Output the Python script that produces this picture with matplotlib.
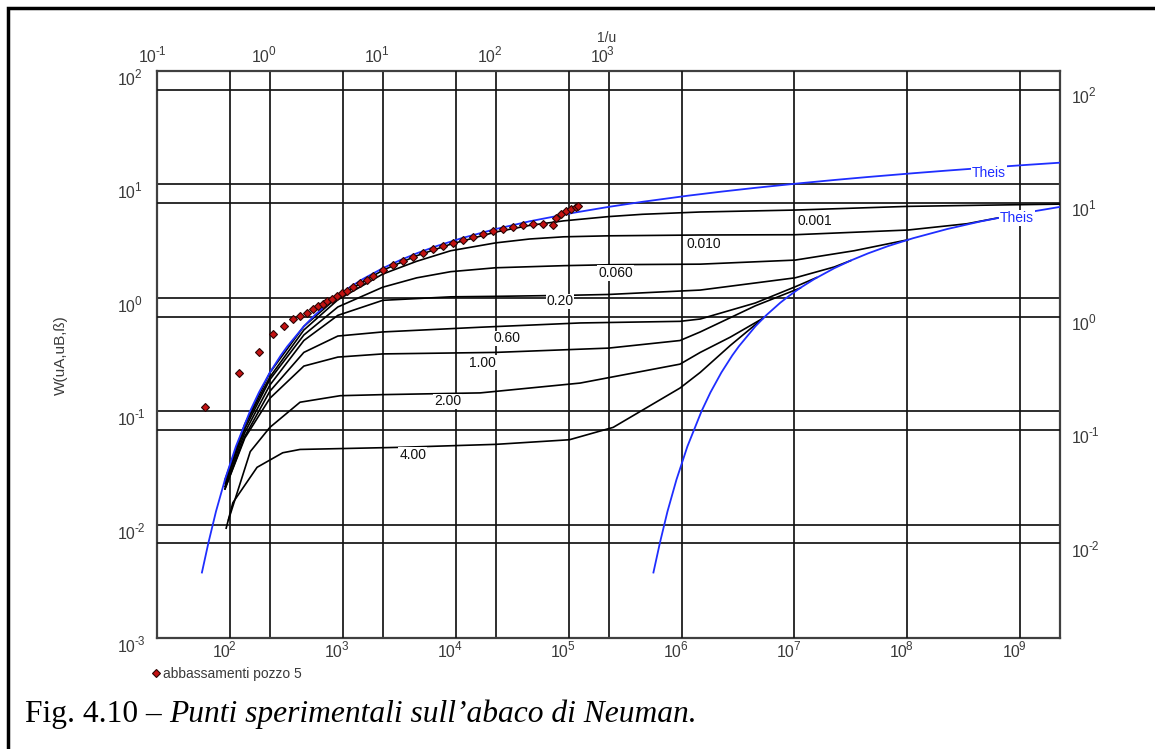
import matplotlib
matplotlib.use("Agg")
import math
import matplotlib.pyplot as plt
from matplotlib.lines import Line2D
from matplotlib.patches import Rectangle
from matplotlib.transforms import offset_copy

plt.rcParams['font.family'] = ['Liberation Sans', 'DejaVu Sans']

# ---------------------------------------------------------------- data
# Theis well function W(u), tabulated against 1/u
theis_inv_u = [0.25, 0.286, 0.333, 0.4, 0.5, 0.667, 0.8, 1, 1.25, 1.43, 2, 2.5,
               3.33, 4, 5, 6.67, 10, 14.3, 20, 30, 50, 100, 200, 500, 1e3, 2e3,
               5e3, 1e4, 2e4, 5e4, 1e5, 2e5, 5e5, 1e6, 2e6, 5e6, 1e7]
theis_w = [0.00378, 0.00697, 0.01305, 0.02491, 0.0489, 0.1000, 0.1464, 0.2194,
           0.3106, 0.3738, 0.5598, 0.7024, 0.9057, 1.0443, 1.2227, 1.4645,
           1.8229, 2.1508, 2.4679, 2.8578, 3.3547, 4.0379, 4.7261, 5.6394,
           6.3315, 7.0242, 7.9402, 8.6332, 9.3263, 10.2426, 10.9357, 11.6289,
           12.5451, 13.2383, 13.9314, 14.8477, 15.5409]

# on this sheet the 1/uB scale is shifted four decades from the 1/uA scale
B_SHIFT = 1e4

# Neuman curves W(uA,uB,beta), abscissa in sheet units of 1/uA
beta_labels = ["0.001", "0.010", "0.060", "0.20", "0.60", "1.00", "2.00", "4.00"]
neuman_x = {
    "0.001": [0.4, 0.6, 1, 2, 4, 10, 20, 40, 100, 200, 400, 1000, 2000, 6500,
              4.5e4, 4.5e5, 2e6, 1e7],
    "0.010": [0.4, 0.6, 1, 2, 4, 10, 20, 40, 100, 200, 400, 1000, 6500, 4.5e4,
              4.5e5, 1.5e6, 2.8e6],
    "0.060": [0.4, 0.6, 1, 2, 4, 10, 20, 40, 100, 400, 1100, 6500, 4.5e4,
              1.5e5, 4.5e5],
    "0.20": [0.4, 0.6, 1, 2, 4, 10, 40, 100, 400, 1000, 6500, 4.5e4, 1e5,
             1.4e5],
    "0.60": [0.4, 0.6, 1, 2, 4, 10, 73, 560, 4300, 6500, 2e4, 4.5e4, 7e4],
    "1.00": [0.4, 0.6, 1, 2, 4, 10, 100, 1000, 4300, 6500, 2e4, 5e4],
    "2.00": [0.43, 0.67, 1, 1.85, 4.2, 10, 73, 560, 4300, 6500, 1.2e4, 2.34e4],
    "4.00": [0.41, 0.47, 0.77, 1.3, 1.85, 14, 100, 450, 1100, 4300, 6500,
             1.2e4, 2.34e4],
}
neuman_w = {
    "0.001": [0.0248, 0.077, 0.219, 0.56, 1.02, 1.75, 2.35, 2.97, 3.8, 4.35,
              4.77, 5.2, 5.45, 5.71, 5.94, 6.4, 6.55, 6.7],
    "0.010": [0.0241, 0.075, 0.2, 0.52, 0.96, 1.62, 2.1, 2.6, 3.05, 3.3, 3.45,
              3.52, 3.58, 3.6, 3.96, 4.5, 5.06],
    "0.060": [0.023, 0.07, 0.19, 0.47, 0.83, 1.24, 1.5, 1.7, 1.84, 1.92,
              1.96, 1.98, 2.15, 2.6, 3.25],
    "0.20": [0.0217, 0.065, 0.17, 0.42, 0.7, 0.95, 1.02, 1.03, 1.05, 1.07,
             1.17, 1.5, 1.87, 2.13],
    "0.60": [0.0206, 0.06, 0.15, 0.33, 0.46, 0.5, 0.55, 0.6, 0.62, 0.65, 0.9,
             1.25, 1.51],
    "1.00": [0.0206, 0.058, 0.13, 0.25, 0.3, 0.32, 0.33, 0.36, 0.42, 0.5,
             0.85, 1.22],
    "2.00": [0.011, 0.044, 0.072, 0.12, 0.137, 0.14, 0.145, 0.177, 0.26, 0.33,
             0.45, 0.66],
    "4.00": [0.0093, 0.0156, 0.032, 0.043, 0.046, 0.048, 0.051, 0.056, 0.072,
             0.16, 0.22, 0.38, 0.66],
}
# curve annotations (sheet 1/uA, W)
beta_label_x = [6.7e4, 6.95e3, 1155, 372, 125, 76.6, 37.5, 18.4]
beta_label_w = [4.75, 3.01, 1.654, 0.928, 0.438, 0.268, 0.122, 0.0415]
theis_label_x = [2.36e6, 4.17e6]
theis_label_w = [12.6, 5.06]

# drawdown record, well 5: time and drawdown
t_obs = [60, 120, 180, 240, 300, 360, 420, 480, 540, 600, 660, 720, 800, 890,
         980, 1090, 1230, 1420, 1640, 1850, 2270, 2780, 3410, 4180, 5130, 6290,
         7710, 9460, 11600, 14200, 17500, 21400, 26200, 32200, 39500, 48400,
         59300, 72800, 77400, 85700, 94900, 105000, 116000, 121000]
s_obs = [0.159, 0.318, 0.486, 0.701, 0.824, 0.951, 1.01, 1.07, 1.16, 1.24,
         1.29, 1.37, 1.43, 1.52, 1.61, 1.68, 1.82, 1.97, 2.10, 2.28, 2.57,
         2.84, 3.08, 3.35, 3.63, 3.94, 4.19, 4.45, 4.73, 5.03, 5.34, 5.68,
         5.91, 6.15, 6.41, 6.54, 6.54, 6.41, 7.39, 8.02, 8.52, 8.87, 9.24, 9.43]

# axis ticks
top_ticks = [0.1, 1, 10, 100, 1000]
left_ticks = [1e-3, 1e-2, 1e-1, 1, 10, 100]
bottom_ticks = [1e2, 1e3, 1e4, 1e5, 1e6, 1e7, 1e8, 1e9]
right_ticks = [1e-2, 1e-1, 1, 10, 100]

# ---------------------------------------------------------------- layout
W_PX, H_PX = 1155, 749
fig = plt.figure(figsize=(W_PX / 100, H_PX / 100), dpi=100)


def fx(px):
    return px / W_PX


def fy(py):
    return 1 - py / H_PX


L, R, T, B = 157, 1060, 71, 638
rect = [fx(L), fy(B), fx(R) - fx(L), fy(T) - fy(B)]

GRID = dict(color='#151515', lw=1.25)
LABEL_C = '#3a3a3a'

# type-curve sheet: 1/uA on top, W on the left
ax = fig.add_axes(rect)
ax.set_xscale('log')
ax.set_yscale('log')
ax.set_xlim(0.1, 1e7)
ax.set_ylim(1e-3, 1e2)
ax.set_xticks(top_ticks)
ax.set_yticks(left_ticks)
ax.minorticks_off()
ax.xaxis.tick_top()
ax.tick_params(length=0, labeltop=False, labelbottom=False,
               labelleft=False, labelright=False)
ax.grid(True, **GRID)
for sp in ax.spines.values():
    sp.set_color('#404040')
    sp.set_linewidth(1.6)
    sp.set_zorder(10)

# field-data sheet: time on the bottom, drawdown on the right
axd = fig.add_axes(rect)
axd.set_xscale('log')
axd.set_yscale('log')
axd.set_xlim(10 ** 1.353, 10 ** 9.353)
axd.set_ylim(10 ** -2.835, 10 ** 2.165)
axd.set_xticks(bottom_ticks)
axd.set_yticks(right_ticks)
axd.minorticks_off()
axd.yaxis.tick_right()
axd.tick_params(length=0, labeltop=False, labelbottom=False,
                labelleft=False, labelright=False)
axd.grid(True, zorder=0, **GRID)
axd.set_axisbelow(True)
axd.patch.set_visible(False)
for sp in axd.spines.values():
    sp.set_visible(False)

# ---------------------------------------------------------------- tick labels
BASE_FS, SUP_FS, SUP_RISE, SUP_GAP = 11.5, 8.5, 7, -1.5


def exponent(v):
    e = round(math.log10(v))
    return '%d' % e


# horizontal scales: "10" ends at the tick, the exponent starts there
def x_labels(axis, ticks, yfrac, base_dy):
    trb = offset_copy(axis.get_xaxis_transform(), fig=fig, x=0, y=base_dy,
                      units='dots')
    trs = offset_copy(axis.get_xaxis_transform(), fig=fig, x=SUP_GAP,
                      y=base_dy + SUP_RISE, units='dots')
    for v in ticks:
        axis.text(v, yfrac, '10', transform=trb, ha='right', va='baseline',
                  fontsize=BASE_FS, color=LABEL_C)
        axis.text(v, yfrac, exponent(v), transform=trs, ha='left',
                  va='baseline', fontsize=SUP_FS, color=LABEL_C)


x_labels(ax, top_ticks, 1, 8.7)
x_labels(axd, bottom_ticks, 0, -19.3)

# vertical scales: labels start at a fixed column
renderer = fig.canvas.get_renderer()


def y_labels(axis, ticks, xfrac, dx, base_dy):
    trb = offset_copy(axis.get_yaxis_transform(), fig=fig, x=dx, y=base_dy,
                      units='dots')
    for v in ticks:
        t = axis.text(xfrac, v, '10', transform=trb, ha='left', va='baseline',
                      fontsize=BASE_FS, color=LABEL_C)
        bb = t.get_window_extent(renderer)
        x0, y0 = trb.transform((xfrac, v))
        fig.text((bb.x1 + SUP_GAP) / W_PX, (y0 + SUP_RISE) / H_PX, exponent(v),
                 ha='left', va='baseline', fontsize=SUP_FS, color=LABEL_C)


y_labels(ax, left_ticks, 0, -39, -14)
y_labels(axd, right_ticks, 1, 12, -13.3)

fig.text(fx(607), fy(38), '1/u', ha='center', va='center', fontsize=10,
         color=LABEL_C)
fig.text(fx(61), fy(355), 'W(uA,uB,ß)', rotation=90, ha='center', va='center',
         fontsize=11, color=LABEL_C)

# ---------------------------------------------------------------- curves
curve_kw = dict(transform=ax.transData, clip_on=True)
for b in beta_labels:
    axd.plot(neuman_x[b], neuman_w[b], color='black', lw=1.2, zorder=3,
             **curve_kw)

blue = '#1f2eff'
theis_b_x = [v * B_SHIFT for v in theis_inv_u]
axd.plot(theis_inv_u, theis_w, color=blue, lw=1.3, zorder=4, **curve_kw)
axd.plot(theis_b_x, theis_w, color=blue, lw=1.3, zorder=4, **curve_kw)

box = dict(facecolor='white', edgecolor='none', pad=0.6)
for b, xv, wv in zip(beta_labels, beta_label_x, beta_label_w):
    axd.text(xv, wv, b, transform=ax.transData, ha='center', va='center',
             fontsize=10, color='#111111', bbox=box, zorder=5)
for xv, wv in zip(theis_label_x, theis_label_w):
    axd.text(xv, wv, 'Theis', transform=ax.transData, ha='center',
             va='center', fontsize=10, color=blue, bbox=box, zorder=5)

# field data
mk = dict(marker='D', markersize=3.6, markerfacecolor='#c41212',
          markeredgecolor='#2a0505', markeredgewidth=0.8, linestyle='none')
axd.plot(t_obs, s_obs, zorder=6, clip_on=False, **mk)

# legend
leg = fig.legend(handles=[Line2D([], [], **mk)],
                 labels=['abbassamenti pozzo 5'], loc='center left',
                 bbox_to_anchor=(fx(150), fy(674)), frameon=False,
                 handlelength=0.8, handletextpad=0.15, borderpad=0,
                 borderaxespad=0, fontsize=10)
for txt in leg.get_texts():
    txt.set_color(LABEL_C)

# caption
CAP_FS = 22.7
cap1 = fig.text(fx(25), fy(722), 'Fig. 4.10 \u2013 ', family='Liberation Serif',
                fontsize=CAP_FS, ha='left', va='baseline', color='black')
bb = cap1.get_window_extent(renderer)
fig.text(bb.x1 / W_PX, fy(722), 'Punti sperimentali sull\u2019abaco di Neuman.',
         family='Liberation Serif', style='italic', fontsize=CAP_FS,
         ha='left', va='baseline', color='black')

# page frame
fig.add_artist(Rectangle((fx(8), -0.1), 1.2, fy(8) + 0.1,
                         transform=fig.transFigure, fill=False,
                         edgecolor='black', lw=2.5))

fig.savefig('out.png', dpi=100)
